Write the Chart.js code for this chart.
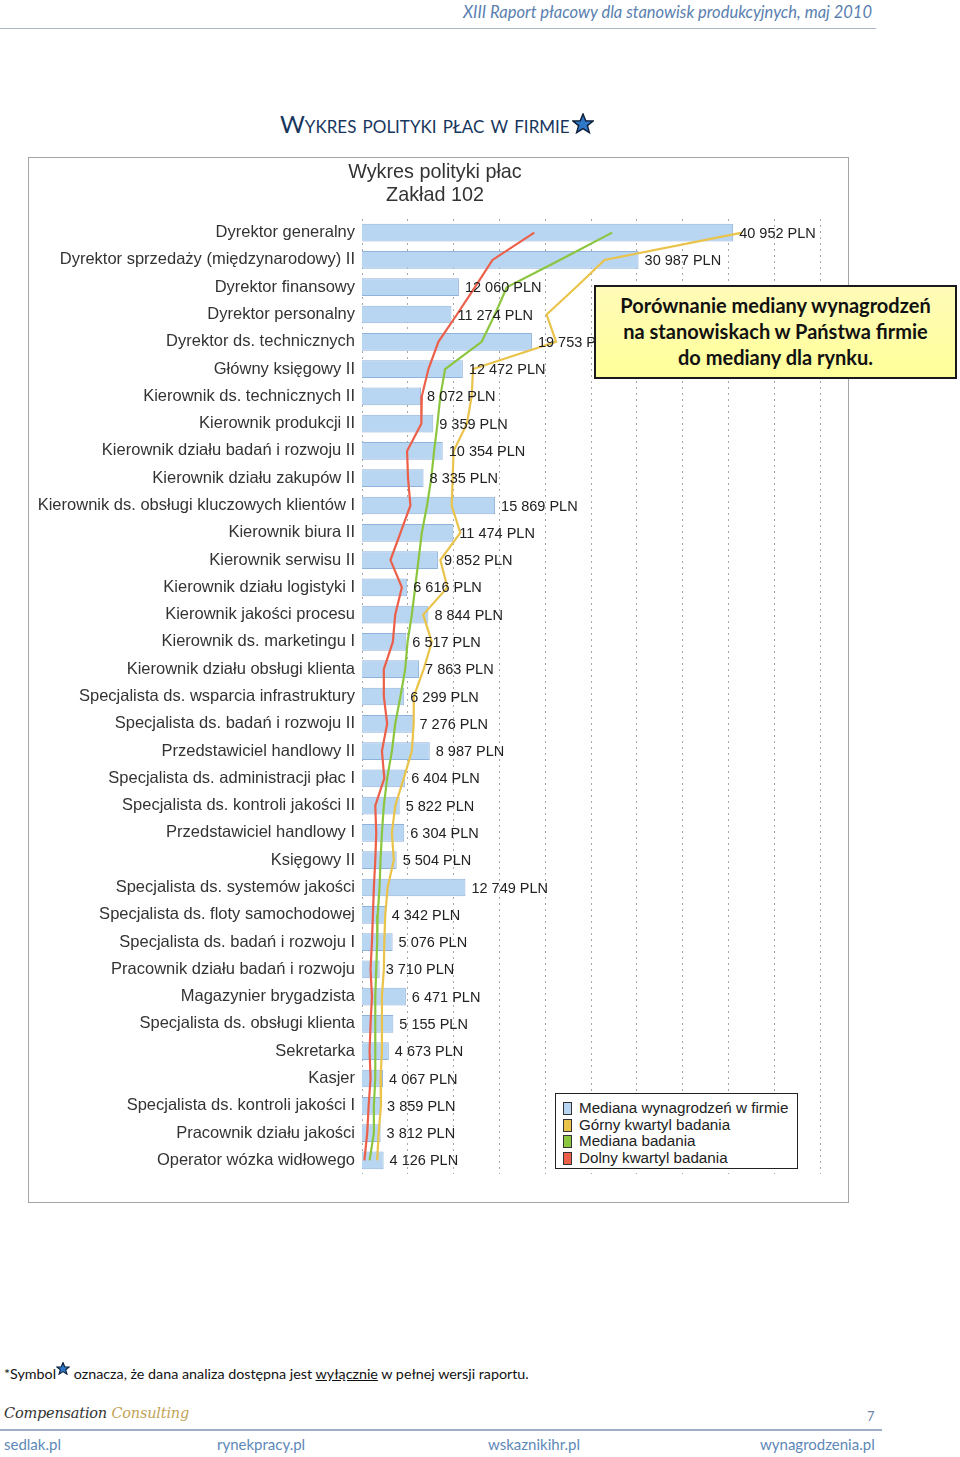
<!DOCTYPE html>
<html>
<head>
<meta charset="utf-8">
<script src="https://cdn.jsdelivr.net/npm/chart.js@4.4.0/dist/chart.umd.min.js"></script>
<style>
  body { margin: 0; background: #fff; }
  #page { position: relative; width: 960px; height: 1457px; overflow: hidden; font-family: "Lato", "Open Sans", sans-serif; }
  .abs { position: absolute; white-space: nowrap; }
  #header { right: 88px; top: 2px; font-style: italic; font-size: 16.5px; color: #5a7fb0; }
  #headLine { left: 0; top: 28px; width: 876px; height: 1px; background: #a9b6c8; }
  #pageTitle { left: 280px; top: 109px; font-size: 24px; color: #17365d; font-variant: small-caps; }
  #pageTitle svg { vertical-align: -1px; margin-left: 2px; }
  #frame { left: 28px; top: 157px; width: 819px; height: 1044px; border: 1px solid #a6a6a6; }
  #chartBox { left: 29px; top: 158px; width: 818px; height: 1043px; }
  #chartTitle { left: 285px; top: 160px; width: 300px; text-align: center; font-family: "Liberation Sans", Arial, sans-serif;
    font-size: 19.8px; line-height: 23px; color: #333; }
  #callout { left: 594px; top: 285px; width: 359px; height: 85px; border: 2px solid #1a1a1a;
    background: linear-gradient(#fffbb8, #ffff99); text-align: center; font-weight: bold; font-size: 20px;
    line-height: 26px; padding-top: 5px; color: #111; }
  #legend { left: 555px; top: 1093px; width: 241px; height: 68px; padding-top: 6px; border: 1px solid #222; background: #fff;
    font-family: "Liberation Sans", Arial, sans-serif; font-size: 15.2px; color: #222; }
  #legend div { height: 16.6px; line-height: 16.6px; padding-left: 23px; position: relative; }
  #legend span { position: absolute; left: 7px; top: 2px; width: 7px; height: 11px; border: 1px solid #333; }
  #note { left: 4px; top: 1362px; font-size: 14.3px; color: #111; }
  #note u { text-decoration: underline; }
  #logo { left: 4px; top: 1405px; font-family: "DejaVu Serif", serif; font-style: italic; font-size: 14.5px; color: #333; letter-spacing: -0.2px; }
  #logo b { font-weight: normal; color: #c2a356; }
  #pageNo { left: 867px; top: 1408px; font-size: 13px; color: #6d86a8; }
  #footLine { left: 0; top: 1429px; width: 882px; height: 2px; background: #9fb0c6; }
  .link { top: 1435px; font-size: 15px; color: #5d88b8; }
</style>
</head>
<body>
<div id="page">
  <div class="abs" id="header">XIII Raport płacowy dla stanowisk produkcyjnych, maj 2010</div>
  <div class="abs" id="headLine"></div>
  <div class="abs" id="pageTitle">Wykres polityki płac w firmie<svg width="22" height="21" viewBox="0 0 24 23"><polygon points="12,1 15,8.5 23,8.8 16.8,13.8 19,21.5 12,17 5,21.5 7.2,13.8 1,8.8 9,8.5" fill="#2f78c8" stroke="#0d1f3a" stroke-width="1.6"/></svg></div>

  <div class="abs" id="frame"></div>
  <div class="abs" id="chartBox"><canvas id="chart" width="818" height="1043"></canvas></div>
  <div class="abs" id="chartTitle">Wykres polityki płac<br>Zakład 102</div>

  <div class="abs" id="callout">Porównanie mediany wynagrodzeń<br>na stanowiskach w Państwa firmie<br>do mediany dla rynku.</div>
  <div class="abs" id="legend"></div>

  <div class="abs" id="note">*Symbol<svg width="14" height="13" viewBox="0 0 24 23" style="vertical-align: 4px"><polygon points="12,1 15,8.5 23,8.8 16.8,13.8 19,21.5 12,17 5,21.5 7.2,13.8 1,8.8 9,8.5" fill="#2f78c8" stroke="#0d1f3a" stroke-width="2"/></svg> oznacza, że dana analiza dostępna jest <u>wyłącznie</u> w pełnej wersji raportu.</div>
  <div class="abs" id="logo">Compensation <b>Consulting</b></div>
  <div class="abs" id="pageNo">7</div>
  <div class="abs" id="footLine"></div>
  <div class="abs link" style="left:4px">sedlak.pl</div>
  <div class="abs link" style="left:217px">rynekpracy.pl</div>
  <div class="abs link" style="left:488px">wskaznikihr.pl</div>
  <div class="abs link" style="left:760px">wynagrodzenia.pl</div>
</div>

<script>
  // stanowiska (od gory)
  const positions = [
    "Dyrektor generalny",
    "Dyrektor sprzedaży (międzynarodowy) II",
    "Dyrektor finansowy",
    "Dyrektor personalny",
    "Dyrektor ds. technicznych",
    "Główny księgowy II",
    "Kierownik ds. technicznych II",
    "Kierownik produkcji II",
    "Kierownik działu badań i rozwoju II",
    "Kierownik działu zakupów II",
    "Kierownik ds. obsługi kluczowych klientów I",
    "Kierownik biura II",
    "Kierownik serwisu II",
    "Kierownik działu logistyki I",
    "Kierownik jakości procesu",
    "Kierownik ds. marketingu I",
    "Kierownik działu obsługi klienta",
    "Specjalista ds. wsparcia infrastruktury",
    "Specjalista ds. badań i rozwoju II",
    "Przedstawiciel handlowy II",
    "Specjalista ds. administracji płac I",
    "Specjalista ds. kontroli jakości II",
    "Przedstawiciel handlowy I",
    "Księgowy II",
    "Specjalista ds. systemów jakości",
    "Specjalista ds. floty samochodowej",
    "Specjalista ds. badań i rozwoju I",
    "Pracownik działu badań i rozwoju",
    "Magazynier brygadzista",
    "Specjalista ds. obsługi klienta",
    "Sekretarka",
    "Kasjer",
    "Specjalista ds. kontroli jakości I",
    "Pracownik działu jakości",
    "Operator wózka widłowego"
  ];

  // mediana w firmie
  const companyMedian = [40952, 30987, 12060, 11274, 19753, 12472, 8072, 9359, 10354, 8335,
    15869, 11474, 9852, 6616, 8844, 6517, 7863, 6299, 7276, 8987,
    6404, 5822, 6304, 5504, 12749, 4342, 5076, 3710, 6471, 5155,
    4673, 4067, 3859, 3812, 4126];

  // gorny kwartyl badania
  const upperQuartile = [41900, 27400, 24400, 21300, 22300, 13550, 13400, 12900, 11500, 11400,
    11300, 12200, 10100, 10850, 8300, 9200, 8350, 7300, 7300, 7100,
    6250, 5350, 5000, 5200, 4550, 4300, 4200, 4150, 3950, 3950,
    3950, 3800, 3850, 3600, 3450];

  // mediana badania
  const marketMedian = [28200, 22700, 17100, 15850, 14450, 10600, 10100, 9800, 9450, 9150,
    8700, 8150, 7800, 7450, 7100, 6650, 6400, 5900, 5350, 5000,
    4500, 4150, 3950, 3800, 3700, 3500, 3450, 3350, 3250, 3250,
    3250, 3250, 3100, 3100, 2650];

  // dolny kwartyl badania
  const lowerQuartile = [20000, 15600, 13750, 11850, 9900, 8850, 8150, 8100, 6600, 6700,
    6950, 5900, 4850, 6050, 5350, 5100, 4150, 4150, 4500, 3950,
    4200, 3250, 3350, 3250, 3100, 3000, 2900, 2750, 2900, 2750,
    2650, 2750, 2550, 2400, 2100];

  const seriesNames = ["Mediana wynagrodzeń w firmie", "Górny kwartyl badania", "Mediana badania", "Dolny kwartyl badania"];
  const seriesColors = ["#b8d5f2", "#e9c34a", "#8cc63f", "#ec5f49"];

  const axisMin = 1850;
  const axisMax = 50100;
  const gridStep = 4825;

  function formatPLN(v) {
    return String(v).replace(/\B(?=(\d{3})+(?!\d))/g, " ") + " PLN";
  }

  // legenda html
  let legendBox = document.getElementById("legend");
  seriesNames.forEach(function (name, i) {
    let row = document.createElement("div");
    row.innerHTML = '<span style="background:' + seriesColors[i] + '"></span>' + name;
    legendBox.appendChild(row);
  });

  const barLabels = {
    id: "barLabels",
    afterDatasetsDraw(chart) {
      let ctx = chart.ctx;
      let meta = chart.getDatasetMeta(0);
      ctx.save();
      ctx.font = '14.5px "Liberation Sans", Arial, sans-serif';
      ctx.fillStyle = "#222";
      ctx.textBaseline = "middle";
      meta.data.forEach(function (bar, i) {
        ctx.fillText(formatPLN(companyMedian[i]), bar.x + 6, bar.y + 1);
      });
      ctx.restore();
    }
  };

  function lineSet(label, data, color, order) {
    return {
      type: "line",
      label: label,
      data: data,
      borderColor: color,
      backgroundColor: color,
      borderWidth: 2.2,
      pointRadius: 0,
      tension: 0,
      order: order
    };
  }

  let ctx = document.getElementById("chart").getContext("2d");
  let chart = new Chart(ctx, {
    type: "bar",
    data: {
      labels: positions,
      datasets: [
        {
          label: seriesNames[0],
          data: companyMedian,
          backgroundColor: seriesColors[0],
          borderColor: "#8fb3da",
          borderWidth: 1,
          barPercentage: 0.65,
          categoryPercentage: 1,
          order: 5
        },
        lineSet(seriesNames[1], upperQuartile, seriesColors[1], 3),
        lineSet(seriesNames[2], marketMedian, seriesColors[2], 2),
        lineSet(seriesNames[3], lowerQuartile, seriesColors[3], 1)
      ]
    },
    options: {
      indexAxis: "y",
      responsive: false,
      animation: false,
      layout: { padding: { left: 0, right: 27, top: 61, bottom: 27 } },
      plugins: {
        legend: { display: false },
        tooltip: { enabled: false }
      },
      scales: {
        x: {
          min: axisMin,
          max: axisMax,
          afterBuildTicks: function (axis) {
            let t = [];
            for (let v = axisMin; v <= axisMax + 1; v += gridStep) t.push({ value: v });
            axis.ticks = t;
          },
          ticks: { display: false },
          grid: { color: "#a8a8a8", drawTicks: false, lineWidth: 1 },
          border: { display: false, dash: [2, 4] }
        },
        y: {
          afterFit: function (scale) { scale.width = 333; },
          grid: { display: false, drawTicks: false },
          border: { display: false },
          ticks: {
            color: "#333",
            padding: 7,
            autoSkip: false,
            font: { family: '"Liberation Sans", Arial, sans-serif', size: 16.5 }
          }
        }
      }
    },
    plugins: [barLabels]
  });
</script>
</body>
</html>
